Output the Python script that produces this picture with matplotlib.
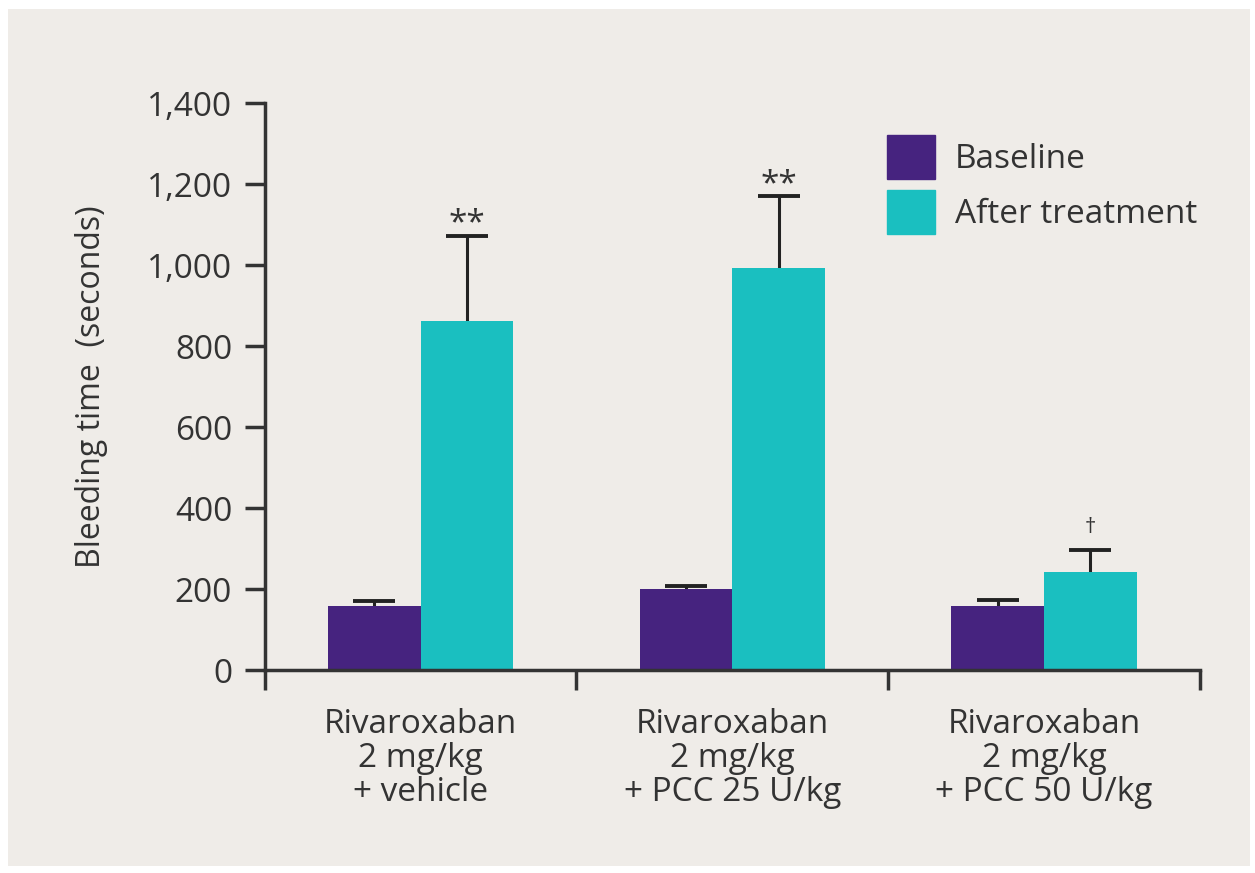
import matplotlib.pyplot as plt
import numpy as np
from matplotlib.patches import Rectangle, Patch

plt.rcParams['font.family'] = ['Open Sans', 'DejaVu Sans']

groups = ['Rivaroxaban\n2 mg/kg\n+ vehicle',
          'Rivaroxaban\n2 mg/kg\n+ PCC 25 U/kg',
          'Rivaroxaban\n2 mg/kg\n+ PCC 50 U/kg']
baseline = [158, 200, 158]
baseline_err = [12, 7, 15]
after = [862, 993, 242]
after_err = [210, 177, 54]
marks = ['**', '**', '\u2020']
yticks = [0, 200, 400, 600, 800, 1000, 1200, 1400]

c_base = '#46237f'
c_after = '#1abfc0'
ink = '#333333'

fig = plt.figure(figsize=(12.55, 8.73), dpi=100, facecolor='white')
# light panel behind the chart, white margin around it
fig.patches.append(Rectangle((0.006, 0.008), 0.99, 0.982, transform=fig.transFigure,
                             facecolor='#efece8', edgecolor='none', zorder=-10))
ax = fig.add_axes([0.211, 0.2325, 0.745, 0.6495])
ax.set_facecolor('none')

x = np.arange(len(groups))
w = 0.297
ax.bar(x - w / 2, baseline, w, color=c_base, zorder=2)
ax.bar(x + w / 2, after, w, color=c_after, zorder=2)
for xs, vals, errs in [(x - w / 2, baseline, baseline_err), (x + w / 2, after, after_err)]:
    eb = ax.errorbar(xs, vals, yerr=[np.zeros(3), errs], fmt='none',
                     ecolor='#222222', elinewidth=2.2, capsize=15, capthick=2.8, zorder=1)
    eb[1][0].set_visible(False)  # only the upper cap

for xi, a, e, m in zip(x, after, after_err, marks):
    if m == '**':
        ax.text(xi + w / 2, a + e + 8, m, ha='center', va='baseline', fontsize=24, color=ink)
    else:
        ax.text(xi + w / 2, a + e + 42, m, ha='center', va='baseline', fontsize=16, color=ink)

ax.set_xlim(-0.5, 2.5)
ax.set_ylim(0, 1400)
ax.set_yticks(yticks)
ax.set_yticklabels([f'{v:,}' for v in yticks], fontsize=24, color=ink)
ax.set_xticks([-0.5, 0.5, 1.5, 2.5])
ax.set_xticklabels([])
ax.set_xticks(x, minor=True)
ax.set_xticklabels(groups, minor=True, fontsize=24, color=ink, linespacing=1.05)
ax.tick_params(axis='x', which='minor', length=0, pad=27)
ax.tick_params(axis='x', which='major', length=14.5, width=2.5, color=ink, direction='out')
ax.tick_params(axis='y', length=14.5, width=2.5, color=ink, pad=9)

for s in ['top', 'right']:
    ax.spines[s].set_visible(False)
for s in ['left', 'bottom']:
    ax.spines[s].set_linewidth(2.5)
    ax.spines[s].set_color(ink)

ax.set_ylabel('Bleeding time  (seconds)', fontsize=23, color=ink, labelpad=28)

handles = [Patch(color=c_base, label='Baseline'), Patch(color=c_after, label='After treatment')]
ax.legend(handles=handles, loc='upper left', bbox_to_anchor=(0.665, 0.943), frameon=False,
          fontsize=24, handlelength=1.44, handleheight=1.65, labelspacing=0.33,
          handletextpad=0.6, borderpad=0, borderaxespad=0, labelcolor=ink)

fig.savefig('out.png', dpi=100, facecolor=fig.get_facecolor())
